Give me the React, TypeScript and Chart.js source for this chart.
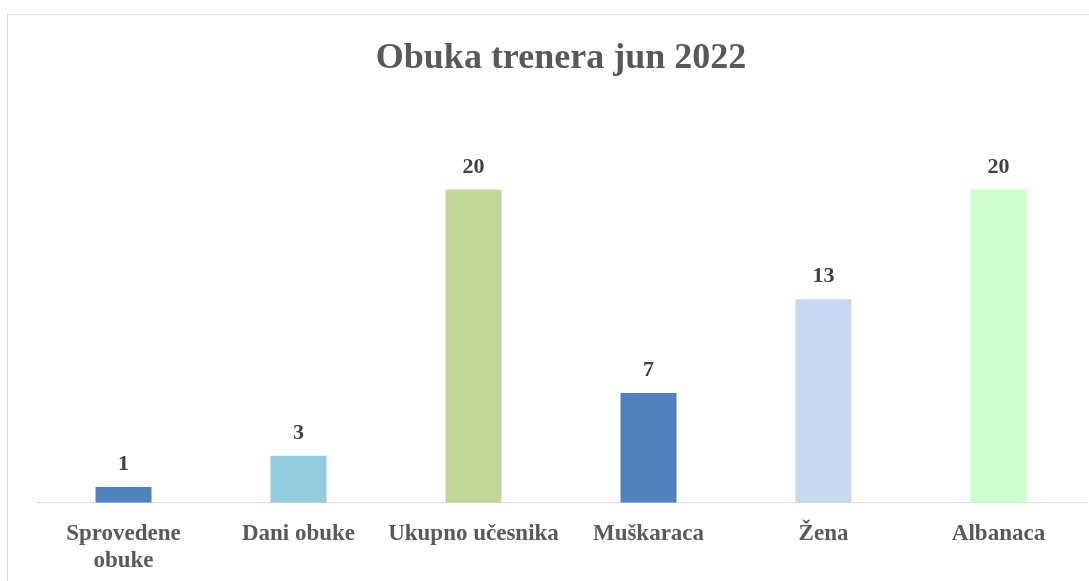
import React, { useEffect, useRef } from "react";
import { Chart, registerables } from "chart.js";

Chart.register(...registerables);

const titleText = "Obuka trenera jun 2022";
const categories: (string | string[])[] = [
  ["Sprovedene", "obuke"],
  "Dani obuke",
  "Ukupno učesnika",
  "Muškaraca",
  "Žena",
  "Albanaca",
];
const values = [1, 3, 20, 7, 13, 20];
const barColors = ["#4F81BD", "#93CDDD", "#C4D79B", "#4F81BD", "#C6D9F1", "#CCFFCC"];
const yMax = 25;

const FONT = "'Liberation Serif', 'Times New Roman', serif";

const valueLabels = {
  id: "valueLabels",
  afterDatasetsDraw(chart: any) {
    const ctx = chart.ctx;
    const meta = chart.getDatasetMeta(0);
    ctx.save();
    ctx.font = `bold 22px ${FONT}`;
    ctx.fillStyle = "#404040";
    ctx.textAlign = "center";
    ctx.textBaseline = "alphabetic";
    meta.data.forEach((bar: any, i: number) => {
      ctx.fillText(String(values[i]), bar.x, bar.y - 17);
    });
    ctx.restore();
  },
};

export default function App() {
  const ref = useRef<HTMLCanvasElement | null>(null);
  useEffect(() => {
    if (!ref.current) return;
    const chart = new Chart(ref.current, {
      type: "bar",
      data: {
        labels: categories,
        datasets: [
          {
            data: values,
            backgroundColor: barColors,
            borderWidth: 0,
            barPercentage: 0.32,
            categoryPercentage: 1,
          },
        ],
      },
      options: {
        responsive: false,
        animation: false,
        layout: { padding: { left: 36, right: 3, top: 0, bottom: 0 } },
        plugins: {
          legend: { display: false },
          tooltip: { enabled: false },
          title: {
            display: true,
            text: titleText,
            color: "#595959",
            font: { family: FONT, size: 36, weight: "bold", lineHeight: 1.2 },
            padding: { top: 37, bottom: 31 },
          },
        },
        scales: {
          x: {
            grid: { display: false, drawTicks: false, tickLength: 0 },
            border: { display: true, color: "#D9D9D9", width: 1 },
            ticks: {
              color: "#595959",
              font: { family: FONT, size: 23, weight: "bold", lineHeight: 1.18 },
              padding: 18,
              maxRotation: 0,
              autoSkip: false,
            },
          },
          y: {
            display: false,
            min: 0,
            max: yMax,
          },
        },
      },
      plugins: [valueLabels],
    });
    return () => chart.destroy();
  }, []);

  return (
    <div
      style={{
        position: "fixed",
        left: 0,
        top: 0,
        width: 1089,
        height: 581,
        overflow: "hidden",
        background: "#FFFFFF",
      }}
    >
      <div
        style={{
          position: "absolute",
          left: 7,
          top: 14,
          width: 1200,
          height: 700,
          border: "1px solid #D9D9D9",
        }}
      />
      <canvas
        ref={ref}
        width={1089}
        height={593}
        style={{ position: "absolute", left: 0, top: 0 }}
      />
    </div>
  );
}
